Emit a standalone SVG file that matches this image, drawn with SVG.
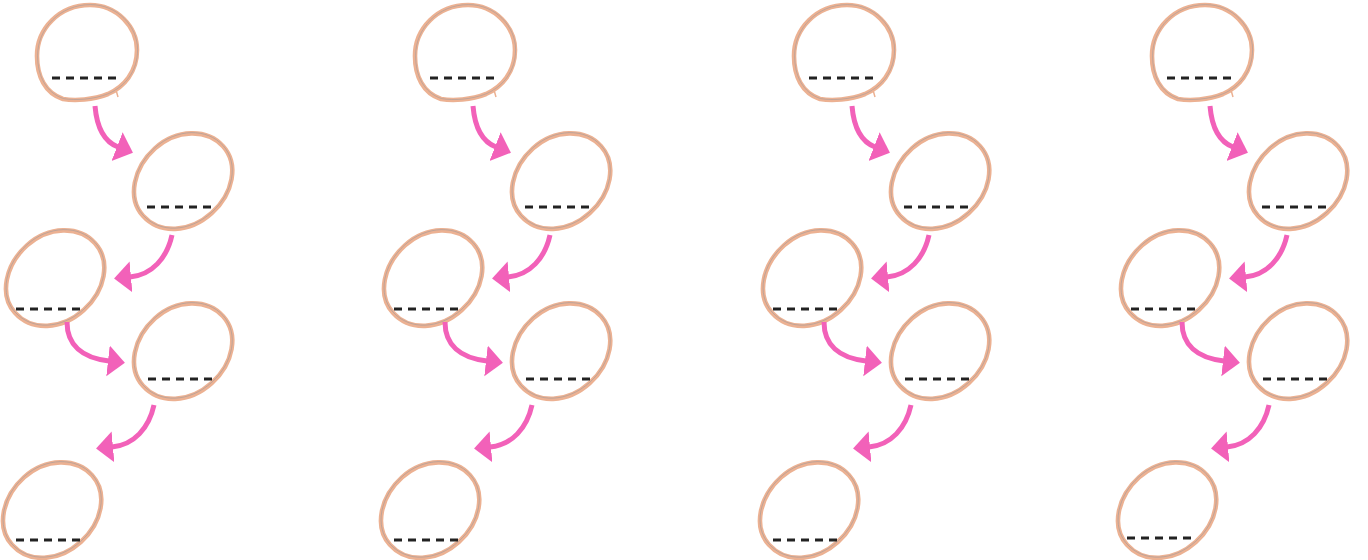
<svg xmlns="http://www.w3.org/2000/svg" xmlns:xlink="http://www.w3.org/1999/xlink" width="1368" height="560" viewBox="0 0 1368 560">
<style>
.o{fill:none;stroke:#ECB192;stroke-width:4.6;stroke-linejoin:round}
.i{fill:none;stroke:#8593A0;stroke-width:0.7;stroke-opacity:0.6}
.t{fill:none;stroke:#ECB192;stroke-width:1.5}
.d{stroke:#222;stroke-width:3;stroke-dasharray:8 6}
.c{fill:none;stroke:#F261B9;stroke-width:5;marker-end:url(#ah)}
</style>
<defs>
<marker id="ah" markerUnits="userSpaceOnUse" markerWidth="20" markerHeight="34" viewBox="0 -17 20 34" refX="1" refY="0" orient="auto">
<path d="M0,-15.5 L17,0 L0,15.5 Z" fill="#F261B9"/>
</marker>
<path id="blob" d="M3,-48 C30,-48 50,-26 50,-3 C50,19 37,34 21,41 C6,47 -12,48 -24,46 C-42,40 -50,23 -50,3 C-50,-24 -28,-48 3,-48 Z"/>
<path id="egg" d="M53,1 C53,25 29,43 0,43 C-30,43 -53,24 -53,-1 C-53,-25 -28,-43 1,-43 C30,-43 53,-23 53,1 Z"/>
</defs>
<g id="nodes">
<g id="col1">
<g id="c1n1" transform="translate(87,53)"><use href="#blob" class="o"/><use href="#blob" class="i" transform="translate(0.6,-0.4)"/><path class="t" d="M29,37 L31,44"/><line class="d" x1="-35" y1="25" x2="29" y2="25"/></g>
<g id="c1n2" transform="translate(183,181)"><g transform="rotate(-42)"><use href="#egg" class="o"/><use href="#egg" class="i" transform="translate(0.5,-0.5)"/></g><line class="d" x1="-36" y1="26" x2="28" y2="26"/></g>
<g id="c1n3" transform="translate(55,278)"><g transform="rotate(-42)"><use href="#egg" class="o"/><use href="#egg" class="i" transform="translate(0.5,-0.5)"/></g><line class="d" x1="-39" y1="31" x2="25" y2="31"/></g>
<g id="c1n4" transform="translate(183,351)"><g transform="rotate(-42)"><use href="#egg" class="o"/><use href="#egg" class="i" transform="translate(0.5,-0.5)"/></g><line class="d" x1="-35" y1="28" x2="29" y2="28"/></g>
<g id="c1n5" transform="translate(52,510)"><g transform="rotate(-42)"><use href="#egg" class="o"/><use href="#egg" class="i" transform="translate(0.5,-0.5)"/></g><line class="d" x1="-36" y1="30" x2="28" y2="30"/></g>
</g>
<g id="col2" transform="translate(378,0)">
<g id="c2n1" transform="translate(87,53)"><use href="#blob" class="o"/><use href="#blob" class="i" transform="translate(0.6,-0.4)"/><path class="t" d="M29,37 L31,44"/><line class="d" x1="-35" y1="25" x2="29" y2="25"/></g>
<g id="c2n2" transform="translate(183,181)"><g transform="rotate(-42)"><use href="#egg" class="o"/><use href="#egg" class="i" transform="translate(0.5,-0.5)"/></g><line class="d" x1="-36" y1="26" x2="28" y2="26"/></g>
<g id="c2n3" transform="translate(55,278)"><g transform="rotate(-42)"><use href="#egg" class="o"/><use href="#egg" class="i" transform="translate(0.5,-0.5)"/></g><line class="d" x1="-39" y1="31" x2="25" y2="31"/></g>
<g id="c2n4" transform="translate(183,351)"><g transform="rotate(-42)"><use href="#egg" class="o"/><use href="#egg" class="i" transform="translate(0.5,-0.5)"/></g><line class="d" x1="-35" y1="28" x2="29" y2="28"/></g>
<g id="c2n5" transform="translate(52,510)"><g transform="rotate(-42)"><use href="#egg" class="o"/><use href="#egg" class="i" transform="translate(0.5,-0.5)"/></g><line class="d" x1="-36" y1="30" x2="28" y2="30"/></g>
</g>
<g id="col3" transform="translate(757,0)">
<g id="c3n1" transform="translate(87,53)"><use href="#blob" class="o"/><use href="#blob" class="i" transform="translate(0.6,-0.4)"/><path class="t" d="M29,37 L31,44"/><line class="d" x1="-35" y1="25" x2="29" y2="25"/></g>
<g id="c3n2" transform="translate(183,181)"><g transform="rotate(-42)"><use href="#egg" class="o"/><use href="#egg" class="i" transform="translate(0.5,-0.5)"/></g><line class="d" x1="-36" y1="26" x2="28" y2="26"/></g>
<g id="c3n3" transform="translate(55,278)"><g transform="rotate(-42)"><use href="#egg" class="o"/><use href="#egg" class="i" transform="translate(0.5,-0.5)"/></g><line class="d" x1="-39" y1="31" x2="25" y2="31"/></g>
<g id="c3n4" transform="translate(183,351)"><g transform="rotate(-42)"><use href="#egg" class="o"/><use href="#egg" class="i" transform="translate(0.5,-0.5)"/></g><line class="d" x1="-35" y1="28" x2="29" y2="28"/></g>
<g id="c3n5" transform="translate(52,510)"><g transform="rotate(-42)"><use href="#egg" class="o"/><use href="#egg" class="i" transform="translate(0.5,-0.5)"/></g><line class="d" x1="-36" y1="30" x2="28" y2="30"/></g>
</g>
<g id="col4" transform="translate(1115,0)">
<g id="c4n1" transform="translate(87,53)"><use href="#blob" class="o"/><use href="#blob" class="i" transform="translate(0.6,-0.4)"/><path class="t" d="M29,37 L31,44"/><line class="d" x1="-35" y1="25" x2="29" y2="25"/></g>
<g id="c4n2" transform="translate(183,181)"><g transform="rotate(-42)"><use href="#egg" class="o"/><use href="#egg" class="i" transform="translate(0.5,-0.5)"/></g><line class="d" x1="-36" y1="26" x2="28" y2="26"/></g>
<g id="c4n3" transform="translate(55,278)"><g transform="rotate(-42)"><use href="#egg" class="o"/><use href="#egg" class="i" transform="translate(0.5,-0.5)"/></g><line class="d" x1="-39" y1="31" x2="25" y2="31"/></g>
<g id="c4n4" transform="translate(183,351)"><g transform="rotate(-42)"><use href="#egg" class="o"/><use href="#egg" class="i" transform="translate(0.5,-0.5)"/></g><line class="d" x1="-35" y1="28" x2="29" y2="28"/></g>
<g id="c4n5" transform="translate(52,510)"><g transform="rotate(-42)"><use href="#egg" class="o"/><use href="#egg" class="i" transform="translate(0.5,-0.5)"/></g><line class="d" x1="-40" y1="28" x2="24" y2="28"/></g>
</g>
</g>
<g id="connectors">
<g transform="translate(0,0)">
<path class="c" d="M95,106 C97,130 105,142 118,147"/>
<path class="c" d="M172,235 C167,258 152,275 130,277"/>
<path class="c" d="M67,322 C67,345 82,358 109,361"/>
<path class="c" d="M154,405 C149,428 134,445 112,447"/>
</g>
<g transform="translate(378,0)">
<path class="c" d="M95,106 C97,130 105,142 118,147"/>
<path class="c" d="M172,235 C167,258 152,275 130,277"/>
<path class="c" d="M67,322 C67,345 82,358 109,361"/>
<path class="c" d="M154,405 C149,428 134,445 112,447"/>
</g>
<g transform="translate(757,0)">
<path class="c" d="M95,106 C97,130 105,142 118,147"/>
<path class="c" d="M172,235 C167,258 152,275 130,277"/>
<path class="c" d="M67,322 C67,345 82,358 109,361"/>
<path class="c" d="M154,405 C149,428 134,445 112,447"/>
</g>
<g transform="translate(1115,0)">
<path class="c" d="M95,106 C97,130 105,142 118,147"/>
<path class="c" d="M172,235 C167,258 152,275 130,277"/>
<path class="c" d="M67,322 C67,345 82,358 109,361"/>
<path class="c" d="M154,405 C149,428 134,445 112,447"/>
</g>
</g>
</svg>
